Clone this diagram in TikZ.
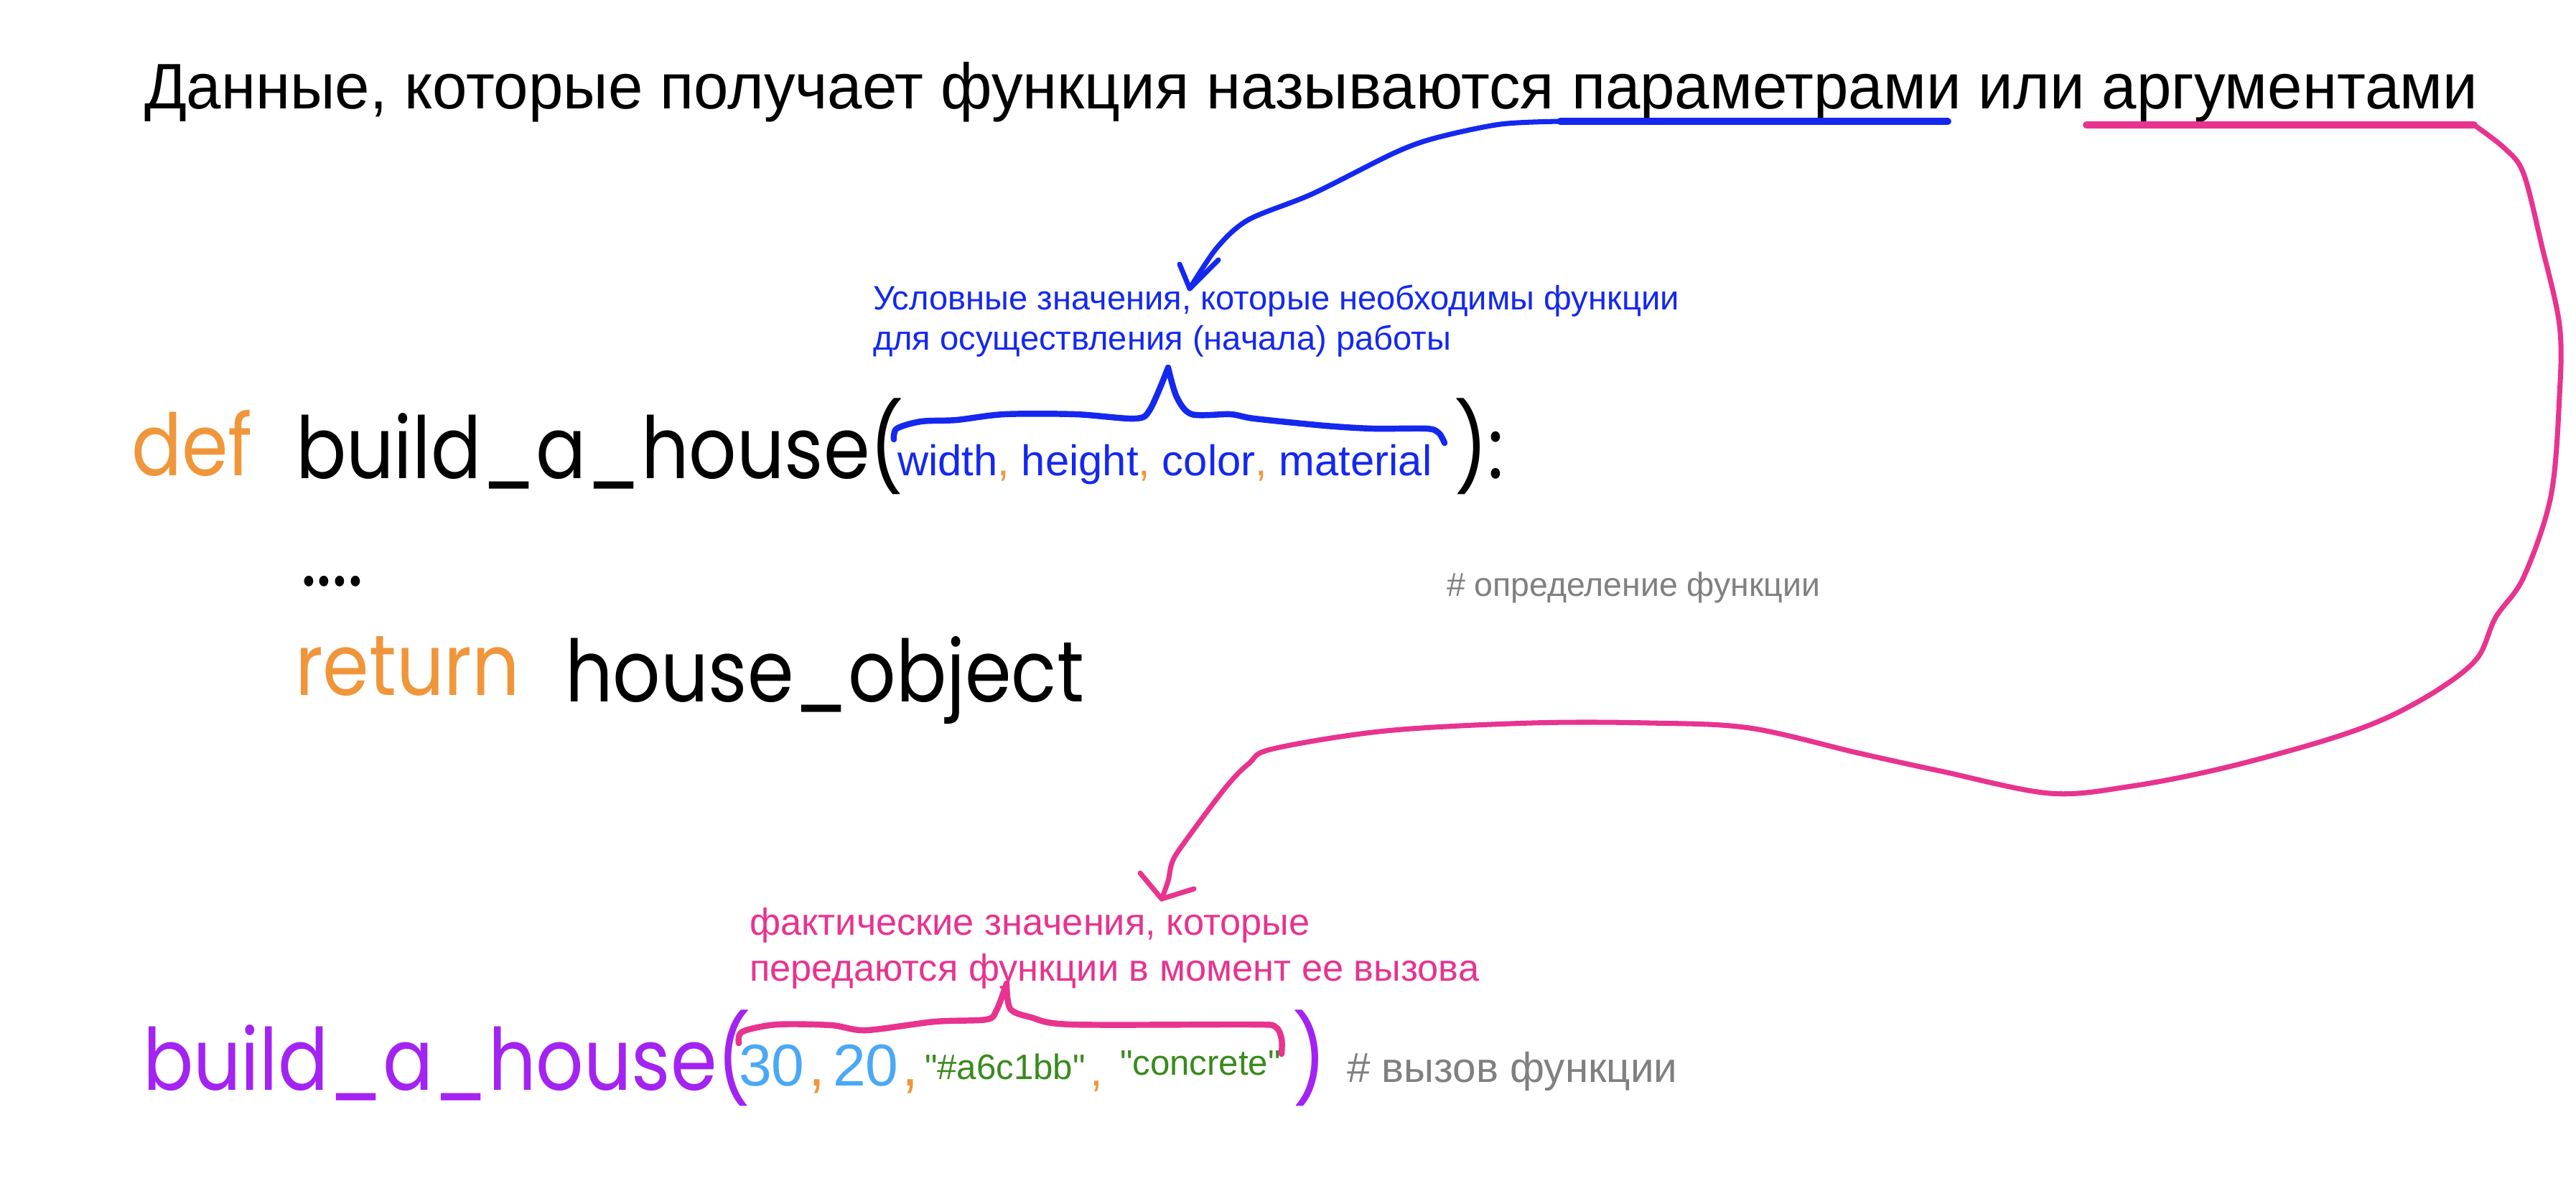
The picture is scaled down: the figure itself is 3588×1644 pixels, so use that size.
\documentclass[tikz,border=0pt]{standalone}
\usepackage{fontspec}
\setmainfont{Liberation Sans}
\newfontfamily\codefont[FakeStretch=0.87]{Poppins}
\newfontfamily\titlefont[FakeStretch=0.97]{Liberation Sans}
\newfontfamily\rawsans[Ligatures=TeXOff]{Liberation Sans}
\definecolor{kwor}{HTML}{F0963A}
\definecolor{pblue}{HTML}{1428F0}
\definecolor{ppink}{HTML}{E8338F}
\definecolor{ppurple}{HTML}{A323F2}
\definecolor{lblue}{HTML}{4AA8F5}
\definecolor{sgreen}{HTML}{3A8A1E}
\definecolor{cgray}{HTML}{808080}
\tikzset{
  txt/.style={anchor=base west, inner sep=0pt, outer sep=0pt},
  code/.style={txt, font=\codefont\fontsize{34}{40}\selectfont},
  ink/.style={line width=2pt, line cap=round, line join=round},
  brace/.style={line width=2.4pt, line cap=round, line join=round},
  uline/.style={line width=2.8pt, line cap=round},
}
\begin{document}
\begin{tikzpicture}[x=0.01cm, y=-0.01cm]
\useasboundingbox[fill=white] (0,0) rectangle (3588,1644);

% title
\node[txt, font=\titlefont\fontsize{25.5}{30}\selectfont] (title) at (201,151)
  {Данные, которые получает функция называются параметрами или аргументами};

% definition
\node[code, text=kwor] (def) at (183,662) {def};
\node[code] (fn) at (412,666) {build\_a\_house(};
\node[txt, font=\fontsize{17}{20}\selectfont] (params) at (1250,662)
  {\color{pblue}width\color{kwor},\ \color{pblue}height\color{kwor},\ \color{pblue}color\color{kwor},\ \color{pblue}material};
\node[code] (close) at (2025,666) {):};
\node[code] (dots) at (419,816) {....};
\node[code, text=kwor] (ret) at (411,968) {return};
\node[code] (obj) at (787,977) {house\_object};
\node[txt, text=cgray, font=\fontsize{13.2}{16}\selectfont] (cm1) at (2015,830) {\# определение функции};

% call
\node[code, text=ppurple] (call) at (199,1518) {build\_a\_house(};
\node[txt, text=lblue, font=\fontsize{23.4}{28}\selectfont] (a30) at (1029,1512) {30};
\node[txt, text=kwor, font=\fontsize{23.4}{28}\selectfont] (c1) at (1126,1512) {,};
\node[txt, text=lblue, font=\fontsize{23.4}{28}\selectfont] (a20) at (1160,1512) {20};
\node[txt, text=kwor, font=\fontsize{23.4}{28}\selectfont] (c2) at (1256,1512) {,};
\node[txt, text=sgreen, font=\rawsans\fontsize{14}{17}\selectfont] (acol) at (1288,1503) {"\#a6c1bb"};
\node[txt, text=kwor, font=\fontsize{18}{20}\selectfont] (c3) at (1518,1512) {,};
\node[txt, text=sgreen, font=\rawsans\fontsize{14}{17}\selectfont] (amat) at (1560,1497) {"concrete"};
\node[code, text=ppurple] (callclose) at (1800,1518) {)};
\node[txt, text=cgray, font=\fontsize{16.6}{20}\selectfont] (cm2) at (1876,1507) {\# вызов функции};

% annotations
\node[txt, text=pblue, font=\fontsize{13.4}{16}\selectfont] (bl1) at (1216,431) {Условные значения, которые необходимы функции};
\node[txt, text=pblue, font=\fontsize{13.4}{16}\selectfont] (bl2) at (1216,487) {для осуществления (начала) работы};
\node[txt, text=ppink, font=\fontsize{14.9}{18}\selectfont] (pk1) at (1044,1302) {фактические значения, которые};
\node[txt, text=ppink, font=\fontsize{14.9}{18}\selectfont] (pk2) at (1044,1366) {передаются функции в момент ее вызова};

% underlines
\coordinate (bu1) at (2173,169);
\coordinate (bu2) at (2713,169);
\coordinate (pu1) at (2906,174);
\coordinate (pu2) at (3446,174);
\draw[uline, pblue] (bu1) -- (bu2);
\draw[uline, ppink] (pu1) -- (pu2);

% blue arrow
\coordinate (btip) at (1657,402);
\draw[ink, pblue] plot[smooth, tension=0.5] coordinates {(bu1) (2090,173) (2000,192) (1942,213) (1828,270) (1739,306) (1695,345) (btip)};
\draw[ink, pblue] (1643,368) -- (btip) -- (1697,362);

% pink arrow
\coordinate (ptip) at (1618,1252);
\draw[ink, ppink] plot[smooth, tension=0.55] coordinates {(pu2) (3489,207) (3515,242) (3540,341) (3565,453) (3565,551) (3553,691) (3515,804) (3476,860) (3451,916) (3400,958) (3324,1000) (3236,1032) (3096,1070) (2969,1095) (2855,1105) (2703,1074) (2589,1049) (2437,1014) (2297,1007) (2133,1007) (1930,1018) (1773,1043) (1740,1063) (1707,1097) (1650,1173) (1633,1200) (1627,1227) (ptip)};
\draw[ink, ppink] (1588,1216) -- (ptip) -- (1663,1238);

% blue brace
\draw[brace, pblue] plot[smooth, tension=0.5] coordinates {(1245,612) (1249,597) (1283,587) (1332,585) (1399,577) (1498,577) (1581,583) (1602,570) (1627,512)};
\draw[brace, pblue] plot[smooth, tension=0.5] coordinates {(1627,512) (1639,553) (1660,577) (1714,577) (1747,583) (1846,593) (1913,597) (1987,597) (2004,603) (2012,617)};

% pink brace
\draw[brace, ppink] plot[smooth, tension=0.5] coordinates {(1029,1453) (1034,1437) (1082,1427) (1158,1428) (1206,1435) (1302,1423) (1374,1420) (1388,1407) (1402,1370)};
\draw[brace, ppink] plot[smooth, tension=0.5] coordinates {(1402,1370) (1407,1405) (1436,1417) (1493,1427) (1742,1427) (1776,1430) (1785,1447) (1785,1468)};
\end{tikzpicture}
\end{document}
